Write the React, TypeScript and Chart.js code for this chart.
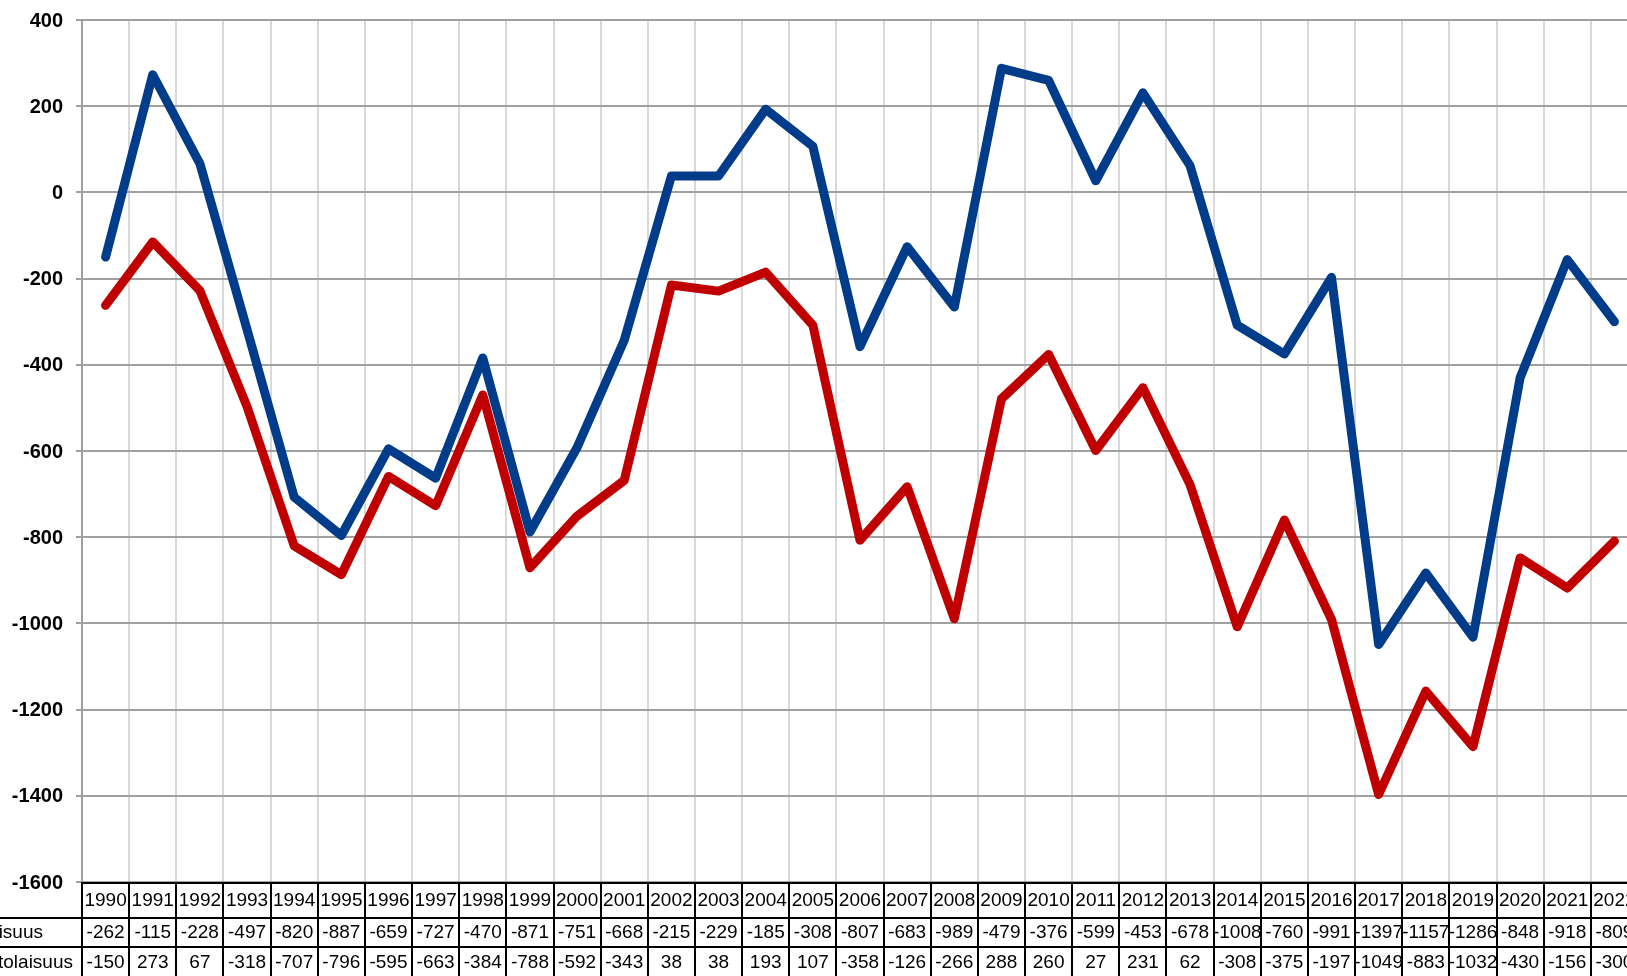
import React, { useEffect, useRef } from "react";
import { Chart, registerables } from "chart.js";

Chart.register(...registerables);

const years = [
  "1990", "1991", "1992", "1993", "1994", "1995", "1996", "1997", "1998", "1999",
  "2000", "2001", "2002", "2003", "2004", "2005", "2006", "2007", "2008", "2009",
  "2010", "2011", "2012", "2013", "2014", "2015", "2016", "2017", "2018", "2019",
  "2020", "2021", "2022",
];

const redLabel = "Väestönmuutos ilman ulkomaalaisuus";
const blueLabel = "Väestönmuutos ml. siirtolaisuus";

const redValues = [
  -262, -115, -228, -497, -820, -887, -659, -727, -470, -871,
  -751, -668, -215, -229, -185, -308, -807, -683, -989, -479,
  -376, -599, -453, -678, -1008, -760, -991, -1397, -1157, -1286,
  -848, -918, -809,
];

const blueValues = [
  -150, 273, 67, -318, -707, -796, -595, -663, -384, -788,
  -592, -343, 38, 38, 193, 107, -358, -126, -266, 288,
  260, 27, 231, 62, -308, -375, -197, -1049, -883, -1032,
  -430, -156, -300,
];

const yMin = -1600;
const yMax = 400;
const yStep = 200;

const RED = "#C00000";
const BLUE = "#003C8A";

const CANVAS_W = 1660;
const CANVAS_H = 976;
const FONT = '"Liberation Sans", Arial, sans-serif';

const tablePlugin = {
  id: "dataTable",
  afterDraw(chart: any) {
    const ctx = chart.ctx as CanvasRenderingContext2D;
    const area = chart.chartArea;
    const xs = chart.scales.x;
    const ys = chart.scales.y;
    const n = years.length;
    const colW = (area.right - area.left) / n;

    // y-axis labels
    ctx.save();
    ctx.font = "bold 20px " + FONT;
    ctx.fillStyle = "#000";
    ctx.textAlign = "right";
    ctx.textBaseline = "middle";
    ys.ticks.forEach((t: any) => {
      const py = ys.getPixelForValue(t.value);
      ctx.fillText(String(t.value), area.left - 19, py + 1);
    });
    ctx.restore();

    const top = area.bottom;
    const headBottom = top + 36;
    const redBottom = top + 65;
    const bottom = CANVAS_H + 4;

    // table lines
    ctx.save();
    ctx.strokeStyle = "#000";
    ctx.lineWidth = 2;
    ctx.beginPath();
    ctx.moveTo(area.left - 1, top + 1);
    ctx.lineTo(CANVAS_W, top + 1);
    ctx.moveTo(0, headBottom);
    ctx.lineTo(CANVAS_W, headBottom);
    ctx.moveTo(0, redBottom);
    ctx.lineTo(CANVAS_W, redBottom);
    for (let i = 0; i <= n; i++) {
      const bx = Math.round(area.left + i * colW);
      ctx.moveTo(bx, top);
      ctx.lineTo(bx, bottom);
    }
    ctx.stroke();
    ctx.restore();

    // table text
    ctx.save();
    ctx.font = "19px " + FONT;
    ctx.fillStyle = "#000";
    ctx.textBaseline = "middle";
    const drawText = (txt: string, x: number, y: number, align: CanvasTextAlign) => {
      ctx.textAlign = align;
      ctx.fillText(txt, x, y);
    };
    for (let i = 0; i < n; i++) {
      const cx = xs.getPixelForValue(i);
      drawText(years[i], cx, top + 19, "center");
      drawText(String(redValues[i]), cx, top + 51, "center");
      drawText(String(blueValues[i]), cx, top + 81, "center");
    }
    drawText(redLabel, area.left - 39, top + 51, "right");
    drawText(blueLabel, area.left - 9, top + 81, "right");
    ctx.restore();
  },
};

export default function App() {
  const ref = useRef<HTMLCanvasElement | null>(null);

  useEffect(() => {
    if (!ref.current) return;
    const chart = new Chart(ref.current, {
      type: "line",
      data: {
        labels: years,
        datasets: [
          {
            label: blueLabel,
            data: blueValues,
            borderColor: BLUE,
            backgroundColor: BLUE,
            borderWidth: 9,
            pointRadius: 0,
            tension: 0,
            borderCapStyle: "round",
            borderJoinStyle: "round",
          },
          {
            label: redLabel,
            data: redValues,
            borderColor: RED,
            backgroundColor: RED,
            borderWidth: 9,
            pointRadius: 0,
            tension: 0,
            borderCapStyle: "round",
            borderJoinStyle: "round",
          },
        ],
      },
      options: {
        animation: false,
        responsive: false,
        devicePixelRatio: 1,
        layout: { padding: { left: 0, top: 20, right: CANVAS_W - 1638, bottom: CANVAS_H - 882 } },
        plugins: {
          legend: { display: false },
          tooltip: { enabled: false },
          title: { display: false },
        },
        scales: {
          x: {
            offset: true,
            ticks: { display: false },
            grid: { offset: true, color: "#d9d9d9", lineWidth: 2, drawTicks: false },
            border: { display: false },
            afterFit: (s: any) => {
              s.height = 0;
            },
          },
          y: {
            min: yMin,
            max: yMax,
            ticks: { stepSize: yStep, display: false },
            grid: { color: "#a0a0a0", lineWidth: 2, drawTicks: true, tickLength: 6 },
            border: { display: true, color: "#a0a0a0", width: 2 },
            afterFit: (s: any) => {
              s.width = 82;
            },
          },
        },
      },
      plugins: [tablePlugin],
    });
    return () => chart.destroy();
  }, []);

  return (
    <div
      style={{
        position: "fixed",
        left: 0,
        top: 0,
        width: "100vw",
        height: "100vh",
        overflow: "hidden",
        background: "#fff",
      }}
    >
      <canvas
        ref={ref}
        width={CANVAS_W}
        height={CANVAS_H}
        style={{ display: "block", width: CANVAS_W, height: CANVAS_H }}
      />
    </div>
  );
}
